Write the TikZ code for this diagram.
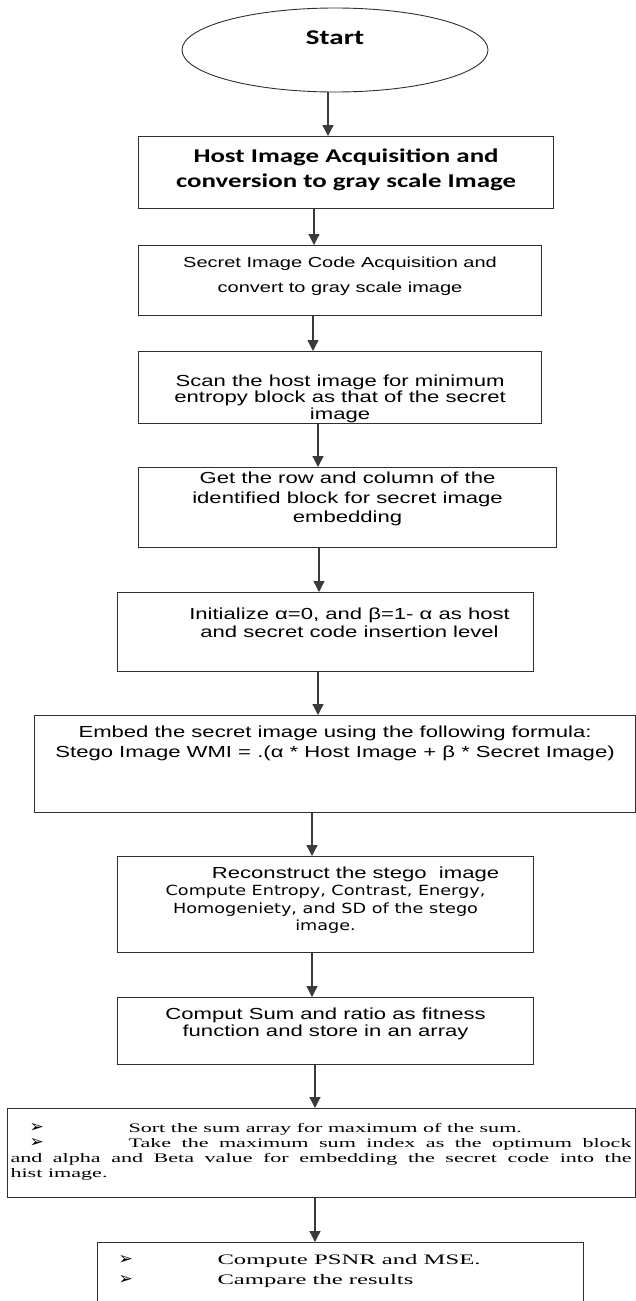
\documentclass[tikz,border=0pt]{standalone}
\usepackage{fontspec}
\usepackage{xcolor}
\newfontfamily\arialx[FakeStretch=1.38]{Liberation Sans}
\newfontfamily\calibx[FakeStretch=1.38]{Carlito}
\newfontfamily\tahox[FakeStretch=1.26]{DejaVu Sans}
\newfontfamily\timesx[FakeStretch=1.7]{Liberation Serif}
\newfontfamily\dingx{DejaVu Sans}
\newcommand{\ddbullet}{{\dingx\fontsize{17}{11}\selectfont ➢}}
\usetikzlibrary{arrows.meta,shapes.geometric}

\begin{document}
\begin{tikzpicture}[x=1pt, y=-1pt, >={Triangle[length=11pt, width=11pt]},
    stepbox/.style n args={3}{draw=boxCol, line width=1.1pt, inner sep=0pt, anchor=north west,
        execute at begin node={\begin{minipage}[c][#2pt][t]{#1pt}\centering\vspace*{#3pt}},
        execute at end node={\end{minipage}}},
    listbox/.style n args={3}{draw=boxCol, line width=1.1pt, inner sep=0pt, anchor=north west,
        execute at begin node={\begin{minipage}[c][#2pt][t]{#1pt}\sloppy\vspace*{#3pt}},
        execute at end node={\end{minipage}}}]
    % Colors
    \definecolor{boxCol}{HTML}{2F2F2F}
    \definecolor{arrowCol}{HTML}{3A3A3A}

    % Page frame
    \useasboundingbox (0,0) rectangle (636,1301);
    \clip (0,0) rectangle (636,1301);

    % Start
    \node[ellipse, draw=boxCol, line width=0.9pt, minimum width=306pt, minimum height=84pt, inner sep=0pt,
        font=\calibx\bfseries\fontsize{21}{21}\selectfont, text height=10pt, text depth=22pt]
        (start) at (335,50) {Start};

    % Process boxes: {width}{height}{top pad}, placed at (left, top)
    \node[stepbox={415}{72}{12.4}, font=\calibx\bfseries\fontsize{19.5}{25}\selectfont] (host) at (138,136)
        {Host Image Acquisition and\\conversion to gray scale Image};

    \node[stepbox={403}{70}{11.6}, font=\arialx\fontsize{14.5}{25}\selectfont] (secret) at (138,245)
        {Secret Image Code Acquisition and\\convert to gray scale image};

    \node[stepbox={403}{72}{23}, font=\arialx\fontsize{16}{16.5}\selectfont] (scan) at (138,351)
        {Scan the host image for minimum\\entropy block as that of the secret\\image};

    \node[stepbox={418}{80}{4.6}, font=\arialx\fontsize{16}{19.5}\selectfont] (rowcol) at (138,467)
        {Get the row and column of the\\identified block for secret image\\embedding};

    \node[stepbox={416}{79}{15}, font=\arialx\fontsize{16}{18.5}\selectfont] (init) at (117,592)
        {\leftskip=48pt plus 1fil\relax Initialize α=0, and β=1- α as host\\and secret code insertion level\par};

    \node[stepbox={601}{97}{10.6}, font=\arialx\fontsize{16}{19.5}\selectfont] (embed) at (34,715)
        {Embed the secret image using the following formula:\\Stego Image WMI = .(α * Host Image + β * Secret Image)};

    \node[stepbox={416}{96}{10.1}, font=\tahox\fontsize{14}{17.5}\selectfont] (recon) at (117,856)
        {{\arialx\fontsize{16}{17.5}\selectfont\hspace*{60pt}Reconstruct the stego~~image}\\
         Compute Entropy, Contrast, Energy,\\Homogeniety, and SD of the stego\\image.};

    \node[stepbox={416}{67}{10}, font=\arialx\fontsize{16}{17}\selectfont] (fitness) at (117,997)
        {Comput Sum and ratio as fitness\\function and store in an array};

    % Bullet boxes
    \node[listbox={628}{89}{14.5}, font=\timesx\fontsize{13}{15.2}\selectfont] (sortmax) at (7,1108)
        {\leftskip=3pt \rightskip=4pt
         \hspace*{19pt}\makebox[99pt][l]{\ddbullet}Sort the sum array for maximum of the sum.\par
         \hspace*{19pt}\makebox[99pt][l]{\ddbullet}Take the maximum sum index as the optimum block\linebreak
         and alpha and Beta value for embedding the secret code into the\linebreak
         hist image.\par};

    \node[listbox={486}{80}{12}, font=\timesx\fontsize{14.5}{20}\selectfont] (psnr) at (97,1242)
        {\hspace*{21pt}\makebox[99pt][l]{\ddbullet}Compute PSNR and MSE.\par
         \hspace*{21pt}\makebox[99pt][l]{\ddbullet}Campare the results\par};

    % Flow arrows
    \foreach \a/\b/\x in {start/host/328, host/secret/314, secret/scan/313, scan/rowcol/318,
                          rowcol/init/319, init/embed/318, embed/recon/312, recon/fitness/312,
                          fitness/sortmax/315, sortmax/psnr/315} {
        \path (\x,0) coordinate (ax);
        \draw[->, arrowCol, line width=1.3pt] (\a.south -| ax) -- (\b.north -| ax);
    }
\end{tikzpicture}
\end{document}
